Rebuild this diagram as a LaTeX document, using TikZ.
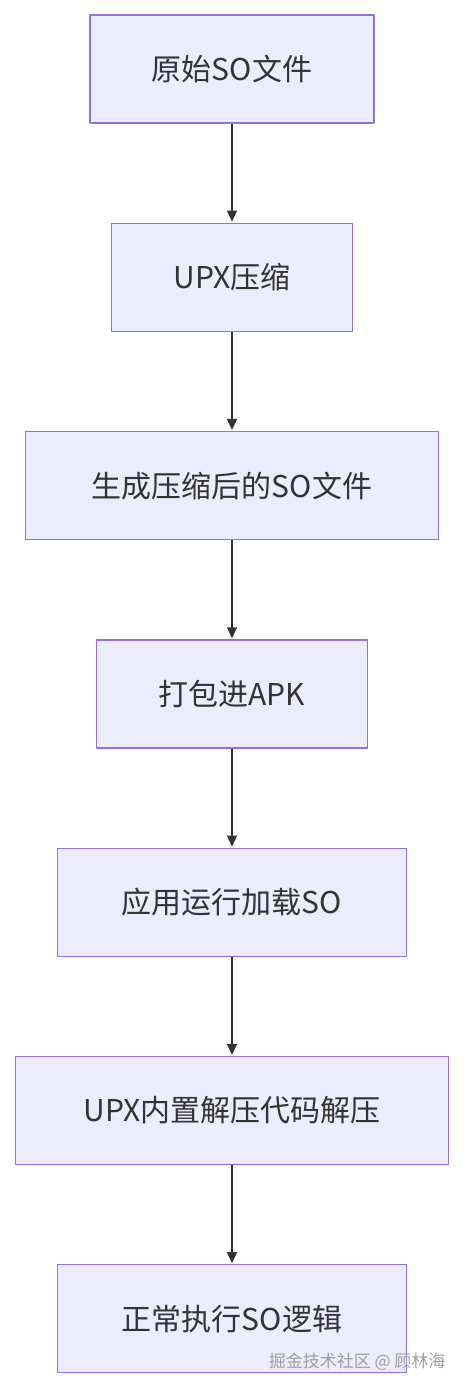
\documentclass[tikz,border=0pt]{standalone}
\usepackage{fontspec}
\setmainfont{Noto Sans CJK SC}
\usetikzlibrary{arrows.meta,positioning}
\definecolor{boxfill}{HTML}{ECECFF}
\definecolor{boxline}{HTML}{9370DB}
\definecolor{ink}{HTML}{333333}

\begin{document}
\begin{tikzpicture}[x=1pt,y=1pt,>=Triangle,line join=round,
  stepbox/.style={draw=boxline,fill=boxfill,line width=1.3pt,minimum height=108pt,
    text=ink,font=\fontsize{30}{34}\selectfont,inner sep=0pt},
  flow/.style={->,draw=ink,line width=1.6pt,shorten >=1pt,
    arrows={-Triangle[length=11pt,width=10pt]}},
  node distance=99pt]
  \useasboundingbox (0,0) rectangle (464,-1388);
  \node[stepbox,minimum width=284pt] (orig) at (232,-69){原始SO文件};
  \node[stepbox,minimum width=241pt,below=of orig] (upx){UPX压缩};
  \node[stepbox,minimum width=413pt,below=of upx] (packed){生成压缩后的SO文件};
  \node[stepbox,minimum width=271pt,below=of packed] (apk){打包进APK};
  \node[stepbox,minimum width=349pt,below=of apk] (load){应用运行加载SO};
  \node[stepbox,minimum width=433pt,below=of load] (unpack){UPX内置解压代码解压};
  \node[stepbox,minimum width=349pt,below=of unpack] (run){正常执行SO逻辑};
  \draw[flow] (orig)--(upx);
  \draw[flow] (upx)--(packed);
  \draw[flow] (packed)--(apk);
  \draw[flow] (apk)--(load);
  \draw[flow] (load)--(unpack);
  \draw[flow] (unpack)--(run);
  % watermark
  \node[text=gray!75,font=\fontsize{17}{19}\selectfont,anchor=east] (mark) at (449,-1362){掘金技术社区 @ 顾林海};
\end{tikzpicture}
\end{document}
